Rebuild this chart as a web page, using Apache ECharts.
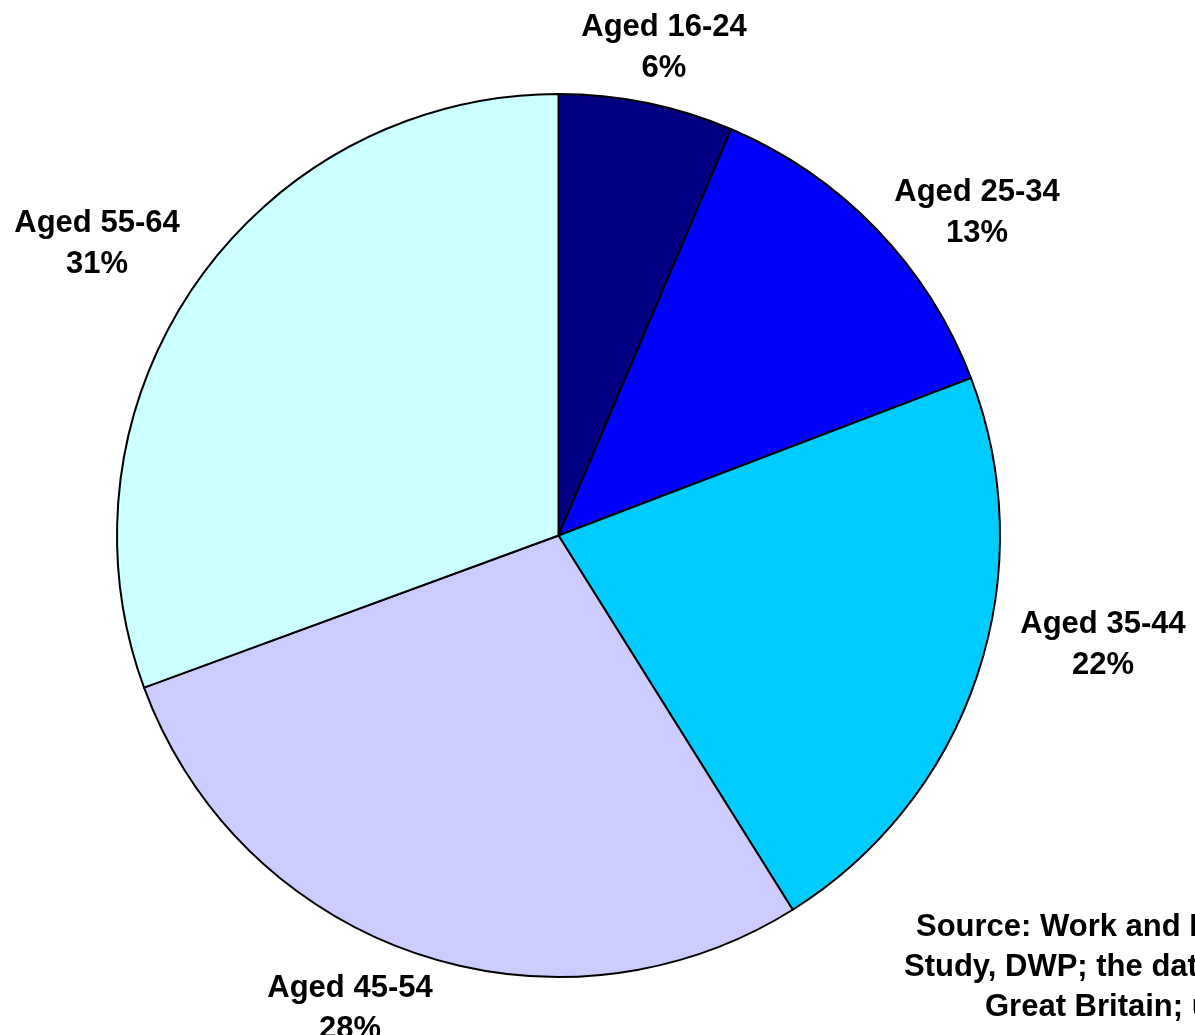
<!DOCTYPE html>
<html>
<head>
<meta charset="utf-8">
<script src="https://cdn.jsdelivr.net/npm/echarts@6/dist/echarts.min.js"></script>
<style>
html,body{margin:0;padding:0;background:#fff;overflow:hidden;}
#chart{width:1195px;height:1035px;}
</style>
</head>
<body>
<div id="chart"></div>
<script>
// Data (share of total, %), clockwise from 12 o'clock
const categories = ['Aged 16-24', 'Aged 25-34', 'Aged 35-44', 'Aged 45-54', 'Aged 55-64'];
const values = [6.4, 12.8, 21.9, 28.3, 30.6];
const colors = ['#000080', '#0000FF', '#00CCFF', '#CCCCFF', '#CCFFFF'];
const sourceLines = [
  'Source: Work and Pensions Longitudinal',
  'Study, DWP; the data covers',
  'Great Britain; updated quarterly'
];

// Layout: label block centres (pixels) for each slice
const labelCentres = [[664, 48], [977, 213], [1103, 645], [350, 1009], [97, 244]];
const sourceLayout = [[916, 925], [904, 965], [985, 1005]];

const FONT = "'Liberation Sans', Arial, Helvetica, sans-serif";
const chart = echarts.init(document.getElementById('chart'), null, {renderer: 'canvas'});

const option = {
  backgroundColor: '#ffffff',
  animation: false,
  series: [{
    type: 'pie',
    center: [558.5, 535.5],
    radius: [0, 441.5],
    startAngle: 90,
    clockwise: true,
    avoidLabelOverlap: false,
    data: categories.map((c, i) => ({
      name: c,
      value: values[i],
      itemStyle: {color: colors[i]}
    })),
    itemStyle: {borderColor: '#000000', borderWidth: 2},
    emphasis: {disabled: true},
    label: {
      show: true,
      position: 'outside',
      formatter: p => p.name + '\n' + Math.round(p.percent) + '%',
      fontFamily: FONT,
      fontWeight: 'bold',
      fontSize: 31,
      lineHeight: 41,
      color: '#000000'
    },
    labelLine: {show: false},
    labelLayout: params => ({
      x: labelCentres[params.dataIndex][0],
      y: labelCentres[params.dataIndex][1],
      align: 'center',
      verticalAlign: 'middle'
    })
  }],
  graphic: sourceLines.map((t, i) => ({
    type: 'text',
    left: sourceLayout[i][0],
    top: sourceLayout[i][1] - 13,
    style: {
      text: t,
      font: 'bold 31px ' + FONT,
      fill: '#000000',
      textAlign: 'left'
    }
  }))
};
chart.setOption(option);
</script>
</body>
</html>
